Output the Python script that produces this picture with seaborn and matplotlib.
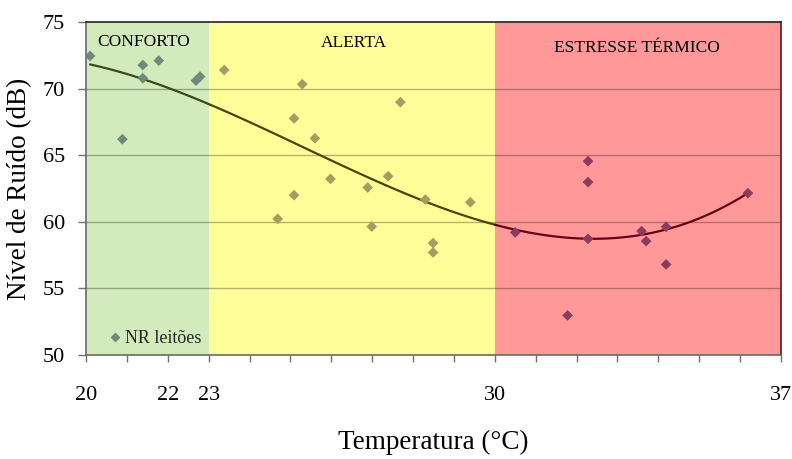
import numpy as np
import pandas as pd
import matplotlib
matplotlib.use("Agg")
import matplotlib.pyplot as plt
import seaborn as sns
from matplotlib.lines import Line2D

# ---- data ----
temperatura = [20.10, 20.89, 21.39, 21.39, 21.78, 22.69, 22.79,
               23.38, 25.29, 25.09, 25.60, 27.69, 25.98, 27.39, 26.89, 25.09,
               24.69, 26.99, 28.30, 29.40, 28.49, 28.49,
               30.50, 32.28, 32.28, 32.28, 31.78, 33.59, 33.70, 34.19, 34.19, 36.19]
ruido = [72.45, 66.20, 71.77, 70.78, 72.10, 70.60, 70.90,
         71.40, 70.33, 67.76, 66.27, 68.98, 63.22, 63.42, 62.57, 62.00,
         60.22, 59.64, 61.67, 61.47, 58.40, 57.70,
         59.20, 64.55, 62.98, 58.72, 52.97, 59.30, 58.55, 59.62, 56.80, 62.15]

zone_names = ["CONFORTO", "ALERTA", "ESTRESSE TÉRMICO"]
zone_limits = [20, 23, 30, 37]
zone_bg = ["#d3eabd", "#ffff99", "#ff9999"]
zone_marker = ["#6f8a79", "#a39d62", "#8b3c5c"]
zone_line = ["#3a4a1a", "#4a4500", "#6a0018"]
zone_label_pos = [(21.42, 73.5), (26.55, 73.4), (33.47, 73.05)]

x_ticks = list(range(20, 38))
x_ticklabels = {20: "20", 22: "22", 23: "23", 30: "30", 37: "37"}
y_ticks = [50, 55, 60, 65, 70, 75]

df = pd.DataFrame({"Temperatura": temperatura, "Ruido": ruido})
df["Zona"] = pd.cut(df["Temperatura"], bins=zone_limits, labels=zone_names)

sns.set_theme(style="white")
plt.rcParams["font.family"] = ["Liberation Serif", "DejaVu Serif"]

fig = plt.figure(figsize=(7.92, 4.59), dpi=100)
ax = fig.add_axes([86/792, 1-355/459, (781-86)/792, (355-22)/459])

for i in range(3):
    ax.axvspan(zone_limits[i], zone_limits[i+1], color=zone_bg[i], zorder=0, lw=0)

for yv in [55, 60, 65, 70]:
    ax.axhline(yv, color="black", alpha=0.3, lw=1.0, zorder=1)

# polynomial trend line (order 3) fitted to the data
coef = np.polyfit(df["Temperatura"], df["Ruido"], 3)
x0, x1 = df["Temperatura"].min(), df["Temperatura"].max()
for i in range(3):
    a = max(x0, zone_limits[i]); b = min(x1, zone_limits[i+1])
    xs = np.linspace(a, b, 100)
    seg = pd.DataFrame({"x": xs, "y": np.polyval(coef, xs)})
    sns.lineplot(data=seg, x="x", y="y", color=zone_line[i], lw=1.6, ax=ax, zorder=3)

sns.scatterplot(data=df, x="Temperatura", y="Ruido", hue="Zona",
                palette=dict(zip(zone_names, zone_marker)), marker="D",
                s=30, linewidth=0, ax=ax, zorder=4, legend=False)

for name, (tx, ty) in zip(zone_names, zone_label_pos):
    ax.text(tx, ty, name, ha="center", va="center", fontsize=12.5, color="black", zorder=5)

ax.set_xlim(20, 37)
ax.set_ylim(50, 75)
ax.set_xticks(x_ticks)
ax.set_xticklabels([x_ticklabels.get(t, "") for t in x_ticks], fontsize=16)
ax.set_yticks(y_ticks)
ax.set_yticklabels([str(t) for t in y_ticks], fontsize=16)
ax.tick_params(axis="x", direction="out", length=5, width=1, color="#707070", pad=17, bottom=True)
ax.tick_params(axis="y", direction="out", length=6, width=1, color="#707070", pad=9, left=True)
for t in ax.get_xticklabels() + ax.get_yticklabels():
    t.set_color("black")

ax.set_xlabel("Temperatura (°C)", fontsize=19.5, labelpad=18, color="black")
ax.set_ylabel("Nível de Ruído (dB)", fontsize=19.5, labelpad=8, color="black")

for side in ["left", "bottom"]:
    ax.spines[side].set_color("#6a6a6a")
    ax.spines[side].set_linewidth(1.2)
ax.spines["top"].set_color("#222222")
ax.spines["right"].set_color("#5a1a1a")
ax.spines["top"].set_linewidth(1.2)
ax.spines["right"].set_linewidth(1.2)
for s in ax.spines.values():
    s.set_zorder(6)

handle = Line2D([], [], marker="D", color=zone_marker[0], lw=0, markersize=4.5)
ax.legend([handle], ["NR leitões"], loc="lower left", bbox_to_anchor=(0.008, -0.025),
          frameon=False, handletextpad=0.15, handlelength=0.8, fontsize=13)

fig.savefig("out.png", dpi=100)
